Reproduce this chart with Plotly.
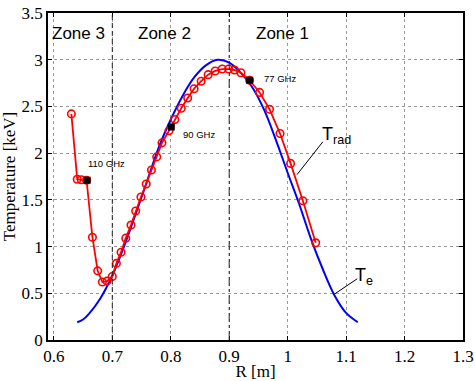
import plotly.graph_objects as go

# Electron temperature profile (blue)
te_r = [0.640, 0.650, 0.660, 0.680, 0.700, 0.720, 0.740, 0.760, 0.780, 0.800, 0.820, 0.840,
        0.860, 0.880, 0.900, 0.920, 0.940, 0.960, 0.980, 1.000, 1.020, 1.040, 1.060, 1.080,
        1.100, 1.120]
te_t = [0.19, 0.22, 0.28, 0.45, 0.69, 1.00, 1.35, 1.71, 2.07, 2.36, 2.61, 2.81,
        2.94, 3.00, 2.97, 2.86, 2.70, 2.46, 2.14, 1.79, 1.45, 1.08, 0.76, 0.48,
        0.29, 0.19]

# Radiation temperature (red circles)
trad_r = [0.630, 0.640, 0.647, 0.656, 0.666, 0.675, 0.683, 0.691, 0.700, 0.707, 0.715, 0.723,
          0.732, 0.740, 0.749, 0.758, 0.767, 0.776, 0.785, 0.797, 0.807, 0.818, 0.829, 0.840,
          0.852, 0.864, 0.876, 0.888, 0.899, 0.909, 0.920, 0.935, 0.952, 0.969, 0.987, 1.005,
          1.026, 1.048]
trad_t = [2.42, 1.72, 1.715, 1.71, 1.10, 0.74, 0.62, 0.63, 0.68, 0.82, 0.94, 1.09,
          1.23, 1.38, 1.53, 1.67, 1.82, 1.96, 2.11, 2.24, 2.36, 2.48, 2.59, 2.69,
          2.77, 2.84, 2.88, 2.90, 2.90, 2.89, 2.86, 2.78, 2.65, 2.47, 2.21, 1.89,
          1.49, 1.04]

# Channel frequencies (black squares)
freq_labels = ["110 GHz", "90 GHz", "77 GHz"]
freq_r = [0.657, 0.801, 0.935]
freq_t = [1.71, 2.28, 2.78]
freq_label_r = [0.690, 0.848, 0.987]
freq_label_t = [1.89, 2.20, 2.80]

zone_labels = ["Zone 3", "Zone 2", "Zone 1"]
zone_r = [0.593, 0.740, 0.943]
zone_bounds = [0.7, 0.9]

x_ticks = [0.6, 0.7, 0.8, 0.9, 1.0, 1.1, 1.2, 1.3]
x_tick_text = ["0.6", "0.7", "0.8", "0.9", "1", "1.1", "1.2", "1.3"]
y_ticks = [0, 0.5, 1, 1.5, 2, 2.5, 3, 3.5]
y_tick_text = ["0", "0.5", "1", "1.5", "2", "2.5", "3", "3.5"]

fig = go.Figure()

fig.add_trace(go.Scatter(x=te_r, y=te_t, mode="lines", line=dict(color="#0000ff", width=2, shape="spline"),
                         showlegend=False))
fig.add_trace(go.Scatter(x=trad_r, y=trad_t, mode="lines+markers",
                         line=dict(color="#ff0000", width=1.8),
                         marker=dict(symbol="circle-open", size=7.5, color="#ff0000", line=dict(width=1.6)),
                         showlegend=False))
fig.add_trace(go.Scatter(x=freq_r, y=freq_t, mode="markers",
                         marker=dict(symbol="square", size=7, color="black"),
                         showlegend=False))

for xb, dash in zip(zone_bounds, ["5px,3px", "dashdot"]):
    fig.add_shape(type="line", x0=xb, x1=xb, y0=0, y1=3.5, xref="x", yref="y",
                  line=dict(color="#222222", width=1, dash=dash))

for lbl, zr in zip(zone_labels, zone_r):
    fig.add_annotation(x=zr, y=3.28, text=lbl, showarrow=False, xanchor="left", yanchor="middle",
                       font=dict(family="Liberation Sans, Arial", size=17, color="black"))

for lbl, fr, ft in zip(freq_labels, freq_label_r, freq_label_t):
    fig.add_annotation(x=fr, y=ft, text=lbl, showarrow=False, xanchor="center", yanchor="middle",
                       font=dict(family="Liberation Sans, Arial", size=9.5, color="black"))

# leader lines
fig.add_shape(type="line", x0=1.016, y0=1.77, x1=1.060, y1=2.12, xref="x", yref="y",
              line=dict(color="black", width=1))
fig.add_annotation(x=1.056, y=2.19, text="T<sub>rad</sub>", showarrow=False, xanchor="left", yanchor="middle",
                   font=dict(family="Liberation Sans, Arial", size=18, color="black"))
fig.add_shape(type="line", x0=1.079, y0=0.487, x1=1.119, y1=0.655, xref="x", yref="y",
              line=dict(color="black", width=1))
fig.add_annotation(x=1.111, y=0.68, text="T<sub>e</sub>", showarrow=False, xanchor="left", yanchor="middle",
                   font=dict(family="Liberation Sans, Arial", size=18, color="black"))

axis_font = dict(family="Liberation Serif, Times New Roman", size=17, color="black")
common = dict(showgrid=True, gridcolor="#999999", griddash="dot", gridwidth=1, showline=True,
              linecolor="black", linewidth=1.5, mirror="ticks", ticks="inside", ticklen=4,
              tickcolor="black", zeroline=False, tickfont=axis_font, automargin=False,
              ticklabeloverflow="allow")
fig.update_xaxes(range=[0.59, 1.3], tickvals=x_ticks, ticktext=x_tick_text,
                 title=dict(text="R [m]", font=axis_font, standoff=0), **common)
fig.update_yaxes(range=[0, 3.5], tickvals=y_ticks, ticktext=y_tick_text,
                 title=dict(text="Temperature [keV]", font=axis_font, standoff=2), **common)

fig.update_layout(width=475, height=381, margin=dict(l=48, r=12, t=13, b=41),
                  plot_bgcolor="white", paper_bgcolor="white", showlegend=False)

# remove the default page margin so the figure fills the window exactly; hide the mode bar
fig.write_html("out.html", config={"displayModeBar": False},
               post_script="document.body.style.margin='0px';")
